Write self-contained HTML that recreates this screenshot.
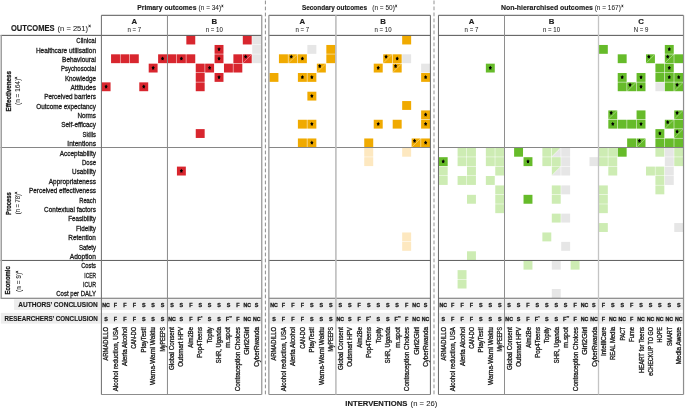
<!DOCTYPE html><html><head><meta charset="utf-8"><title>Outcomes</title><style>html,body{margin:0;padding:0;background:#fff;}svg{display:block;font-family:"Liberation Sans",sans-serif;}text{stroke:#1a1a1a;stroke-width:0.3px;paint-order:stroke;}text.b{stroke-width:0.16px;}text.l{stroke-width:0.05px;}text.c{stroke-width:0.32px;}</style></head><body>
<svg width="685" height="409" viewBox="0 0 685 409">
<rect width="685" height="409" fill="#fff"/>
<rect x="14.10" y="299.30" width="87.30" height="10.60" fill="#ededed"/>
<rect x="101.40" y="299.30" width="159.97" height="10.60" fill="#ededed"/>
<rect x="269.20" y="299.30" width="161.16" height="10.60" fill="#ededed"/>
<rect x="438.50" y="299.30" width="244.92" height="10.60" fill="#ededed"/>
<rect x="0.80" y="312.90" width="100.60" height="10.70" fill="#ededed"/>
<rect x="101.40" y="312.90" width="159.97" height="10.70" fill="#ededed"/>
<rect x="269.20" y="312.90" width="161.16" height="10.70" fill="#ededed"/>
<rect x="438.50" y="312.90" width="244.92" height="10.70" fill="#ededed"/>
<rect x="186.34" y="35.61" width="8.91" height="8.85" fill="#d8262e"/>
<rect x="242.80" y="35.61" width="8.91" height="8.85" fill="#d8262e"/>
<rect x="252.21" y="35.61" width="8.91" height="8.85" fill="#e6e6e6"/>
<rect x="214.57" y="44.96" width="8.91" height="8.85" fill="#d8262e"/><polygon points="219.03,47.03 219.63,48.17 220.66,48.56 220.00,49.64 220.03,51.01 219.03,50.55 218.02,51.01 218.05,49.64 217.39,48.56 218.42,48.17" fill="#000"/>
<rect x="252.21" y="44.96" width="8.91" height="8.85" fill="#e6e6e6"/>
<rect x="111.06" y="54.31" width="8.91" height="8.85" fill="#d8262e"/>
<rect x="120.47" y="54.31" width="8.91" height="8.85" fill="#d8262e"/>
<rect x="129.88" y="54.31" width="8.91" height="8.85" fill="#d8262e"/>
<rect x="158.11" y="54.31" width="8.91" height="8.85" fill="#d8262e"/><polygon points="162.57,56.38 163.17,57.52 164.20,57.91 163.54,58.99 163.57,60.36 162.57,59.91 161.56,60.36 161.59,58.99 160.93,57.91 161.96,57.52" fill="#000"/>
<rect x="167.52" y="54.31" width="8.91" height="8.85" fill="#d8262e"/>
<rect x="176.93" y="54.31" width="8.91" height="8.85" fill="#d8262e"/><polygon points="181.39,56.38 181.99,57.52 183.02,57.91 182.36,58.99 182.39,60.36 181.39,59.91 180.38,60.36 180.41,58.99 179.75,57.91 180.78,57.52" fill="#000"/>
<rect x="186.34" y="54.31" width="8.91" height="8.85" fill="#d8262e"/>
<rect x="214.57" y="54.31" width="8.91" height="8.85" fill="#d8262e"/><polygon points="219.03,56.38 219.63,57.52 220.66,57.91 220.00,58.99 220.03,60.36 219.03,59.91 218.02,60.36 218.05,58.99 217.39,57.91 218.42,57.52" fill="#000"/>
<rect x="233.39" y="54.31" width="8.91" height="8.85" fill="#d8262e"/>
<rect x="242.80" y="54.31" width="8.91" height="8.85" fill="#d8262e"/><line x1="242.80" y1="63.16" x2="251.71" y2="54.31" stroke="#fff" stroke-width="0.5" stroke-opacity="0.7"/><polygon points="245.66,54.58 246.26,55.72 247.29,56.10 246.63,57.19 246.66,58.56 245.66,58.10 244.65,58.56 244.68,57.19 244.02,56.10 245.05,55.72" fill="#000"/>
<rect x="252.21" y="54.31" width="8.91" height="8.85" fill="#e6e6e6"/>
<rect x="148.70" y="63.66" width="8.91" height="8.85" fill="#d8262e"/><polygon points="153.16,65.73 153.76,66.87 154.79,67.26 154.13,68.34 154.16,69.71 153.16,69.25 152.15,69.71 152.18,68.34 151.52,67.26 152.55,66.87" fill="#000"/>
<rect x="195.75" y="63.66" width="8.91" height="8.85" fill="#d8262e"/>
<rect x="205.16" y="63.66" width="8.91" height="8.85" fill="#d8262e"/><polygon points="209.62,65.73 210.22,66.87 211.25,67.26 210.59,68.34 210.62,69.71 209.62,69.25 208.61,69.71 208.64,68.34 207.98,67.26 209.01,66.87" fill="#000"/>
<rect x="223.98" y="63.66" width="8.91" height="8.85" fill="#d8262e"/>
<rect x="233.39" y="63.66" width="8.91" height="8.85" fill="#d8262e"/>
<rect x="195.75" y="73.01" width="8.91" height="8.85" fill="#d8262e"/>
<rect x="214.57" y="73.01" width="8.91" height="8.85" fill="#d8262e"/><polygon points="219.03,75.08 219.63,76.22 220.66,76.61 220.00,77.69 220.03,79.06 219.03,78.60 218.02,79.06 218.05,77.69 217.39,76.61 218.42,76.22" fill="#000"/>
<rect x="101.65" y="82.36" width="8.91" height="8.85" fill="#d8262e"/><polygon points="106.11,84.44 106.71,85.57 107.74,85.96 107.08,87.04 107.11,88.41 106.11,87.95 105.10,88.41 105.13,87.04 104.47,85.96 105.50,85.57" fill="#000"/>
<rect x="139.29" y="82.36" width="8.91" height="8.85" fill="#d8262e"/><polygon points="143.75,84.44 144.35,85.57 145.38,85.96 144.72,87.04 144.75,88.41 143.75,87.95 142.74,88.41 142.77,87.04 142.11,85.96 143.14,85.57" fill="#000"/>
<rect x="195.75" y="82.36" width="8.91" height="8.85" fill="#d8262e"/>
<rect x="195.75" y="129.11" width="8.91" height="8.85" fill="#d8262e"/>
<rect x="176.93" y="166.60" width="8.91" height="8.91" fill="#d8262e"/><polygon points="181.39,168.71 181.99,169.84 183.02,170.23 182.36,171.31 182.39,172.68 181.39,172.22 180.38,172.68 180.41,171.31 179.75,170.23 180.78,169.84" fill="#000"/>
<rect x="402.17" y="35.61" width="8.98" height="8.85" fill="#f0aa00"/>
<rect x="307.37" y="44.96" width="8.98" height="8.85" fill="#e6e6e6"/>
<rect x="326.33" y="44.96" width="8.98" height="8.85" fill="#f0aa00"/>
<rect x="278.93" y="54.31" width="8.98" height="8.85" fill="#f0aa00"/>
<rect x="288.41" y="54.31" width="8.98" height="8.85" fill="#f0aa00"/><line x1="288.41" y1="63.16" x2="297.39" y2="54.31" stroke="#fff" stroke-width="0.5" stroke-opacity="0.7"/><polygon points="291.29,54.58 291.89,55.72 292.92,56.10 292.27,57.19 292.30,58.56 291.29,58.10 290.28,58.56 290.31,57.19 289.66,56.10 290.68,55.72" fill="#000"/>
<rect x="297.89" y="54.31" width="8.98" height="8.85" fill="#f0aa00"/><polygon points="302.38,56.38 302.99,57.52 304.01,57.91 303.36,58.99 303.39,60.36 302.38,59.91 301.37,60.36 301.40,58.99 300.75,57.91 301.77,57.52" fill="#000"/>
<rect x="326.33" y="54.31" width="8.98" height="8.85" fill="#f0aa00"/>
<rect x="383.21" y="54.31" width="8.98" height="8.85" fill="#f0aa00"/><line x1="383.21" y1="63.16" x2="392.19" y2="54.31" stroke="#fff" stroke-width="0.5" stroke-opacity="0.7"/><polygon points="386.09,54.58 386.69,55.72 387.72,56.10 387.07,57.19 387.10,58.56 386.09,58.10 385.08,58.56 385.11,57.19 384.46,56.10 385.48,55.72" fill="#000"/>
<rect x="392.69" y="54.31" width="8.98" height="8.85" fill="#f0aa00"/><polygon points="397.18,56.38 397.79,57.52 398.81,57.91 398.16,58.99 398.19,60.36 397.18,59.91 396.17,60.36 396.20,58.99 395.55,57.91 396.57,57.52" fill="#000"/>
<rect x="402.17" y="54.31" width="8.98" height="8.85" fill="#e6e6e6"/>
<rect x="316.85" y="63.66" width="8.98" height="8.85" fill="#f0aa00"/><line x1="316.85" y1="72.51" x2="325.83" y2="63.66" stroke="#fff" stroke-width="0.5" stroke-opacity="0.7"/><polygon points="319.73,63.93 320.33,65.07 321.36,65.45 320.71,66.54 320.74,67.91 319.73,67.45 318.72,67.91 318.75,66.54 318.10,65.45 319.12,65.07" fill="#000"/>
<rect x="373.73" y="63.66" width="8.98" height="8.85" fill="#f0aa00"/><polygon points="378.22,65.73 378.83,66.87 379.85,67.26 379.20,68.34 379.23,69.71 378.22,69.25 377.21,69.71 377.24,68.34 376.59,67.26 377.61,66.87" fill="#000"/>
<rect x="392.69" y="63.66" width="8.98" height="8.85" fill="#f0aa00"/><line x1="392.69" y1="72.51" x2="401.67" y2="63.66" stroke="#fff" stroke-width="0.5" stroke-opacity="0.7"/><polygon points="395.57,63.93 396.17,65.07 397.20,65.45 396.55,66.54 396.58,67.91 395.57,67.45 394.56,67.91 394.59,66.54 393.94,65.45 394.96,65.07" fill="#000"/>
<rect x="421.13" y="63.66" width="8.98" height="8.85" fill="#e6e6e6"/>
<rect x="269.45" y="73.01" width="8.98" height="8.85" fill="#f0aa00"/>
<rect x="297.89" y="73.01" width="8.98" height="8.85" fill="#f0aa00"/><polygon points="302.38,75.08 302.99,76.22 304.01,76.61 303.36,77.69 303.39,79.06 302.38,78.60 301.37,79.06 301.40,77.69 300.75,76.61 301.77,76.22" fill="#000"/>
<rect x="307.37" y="73.01" width="8.98" height="8.85" fill="#f0aa00"/><polygon points="311.86,75.08 312.47,76.22 313.49,76.61 312.84,77.69 312.87,79.06 311.86,78.60 310.85,79.06 310.88,77.69 310.23,76.61 311.25,76.22" fill="#000"/>
<rect x="421.13" y="73.01" width="8.98" height="8.85" fill="#f0aa00"/><polygon points="425.62,75.08 426.23,76.22 427.25,76.61 426.60,77.69 426.63,79.06 425.62,78.60 424.61,79.06 424.64,77.69 423.99,76.61 425.01,76.22" fill="#000"/>
<rect x="307.37" y="91.71" width="8.98" height="8.85" fill="#f0aa00"/><polygon points="311.86,93.78 312.47,94.92 313.49,95.31 312.84,96.39 312.87,97.76 311.86,97.30 310.85,97.76 310.88,96.39 310.23,95.31 311.25,94.92" fill="#000"/>
<rect x="402.17" y="101.06" width="8.98" height="8.85" fill="#f0aa00"/>
<rect x="421.13" y="110.41" width="8.98" height="8.85" fill="#f0aa00"/><polygon points="425.62,112.48 426.23,113.62 427.25,114.01 426.60,115.09 426.63,116.46 425.62,116.00 424.61,116.46 424.64,115.09 423.99,114.01 425.01,113.62" fill="#000"/>
<rect x="297.89" y="119.76" width="8.98" height="8.85" fill="#f0aa00"/>
<rect x="307.37" y="119.76" width="8.98" height="8.85" fill="#f0aa00"/><polygon points="311.86,121.83 312.47,122.97 313.49,123.36 312.84,124.44 312.87,125.81 311.86,125.35 310.85,125.81 310.88,124.44 310.23,123.36 311.25,122.97" fill="#000"/>
<rect x="373.73" y="119.76" width="8.98" height="8.85" fill="#f0aa00"/><polygon points="378.22,121.83 378.83,122.97 379.85,123.36 379.20,124.44 379.23,125.81 378.22,125.35 377.21,125.81 377.24,124.44 376.59,123.36 377.61,122.97" fill="#000"/>
<rect x="392.69" y="119.76" width="8.98" height="8.85" fill="#f0aa00"/>
<rect x="421.13" y="119.76" width="8.98" height="8.85" fill="#f0aa00"/><polygon points="425.62,121.83 426.23,122.97 427.25,123.36 426.60,124.44 426.63,125.81 425.62,125.35 424.61,125.81 424.64,124.44 423.99,123.36 425.01,122.97" fill="#000"/>
<rect x="297.89" y="138.46" width="8.98" height="8.85" fill="#f0aa00"/>
<rect x="307.37" y="138.46" width="8.98" height="8.85" fill="#f0aa00"/><polygon points="311.86,140.53 312.47,141.67 313.49,142.06 312.84,143.14 312.87,144.51 311.86,144.05 310.85,144.51 310.88,143.14 310.23,142.06 311.25,141.67" fill="#000"/>
<rect x="364.25" y="138.46" width="8.98" height="8.85" fill="#f0aa00"/>
<rect x="411.65" y="138.46" width="8.98" height="8.85" fill="#f0aa00"/><line x1="411.65" y1="147.31" x2="420.63" y2="138.46" stroke="#fff" stroke-width="0.5" stroke-opacity="0.7"/><polygon points="414.53,138.73 415.13,139.87 416.16,140.25 415.51,141.34 415.54,142.71 414.53,142.25 413.52,142.71 413.55,141.34 412.90,140.25 413.92,139.87" fill="#000"/>
<rect x="421.13" y="138.46" width="8.98" height="8.85" fill="#f0aa00"/><polygon points="425.62,140.53 426.23,141.67 427.25,142.06 426.60,143.14 426.63,144.51 425.62,144.05 424.61,144.51 424.64,143.14 423.99,142.06 425.01,141.67" fill="#000"/>
<rect x="364.25" y="147.78" width="8.98" height="8.91" fill="#fde8c0"/>
<rect x="402.17" y="147.78" width="8.98" height="8.91" fill="#fde8c0"/>
<rect x="364.25" y="157.19" width="8.98" height="8.91" fill="#fde8c0"/>
<rect x="402.17" y="232.47" width="8.98" height="8.91" fill="#fde8c0"/>
<rect x="402.17" y="241.88" width="8.98" height="8.91" fill="#fde8c0"/>
<rect x="598.89" y="44.96" width="8.92" height="8.85" fill="#66bb2a"/>
<rect x="664.83" y="44.96" width="8.92" height="8.85" fill="#66bb2a"/><polygon points="669.29,47.03 669.90,48.17 670.92,48.56 670.27,49.64 670.30,51.01 669.29,50.55 668.28,51.01 668.31,49.64 667.66,48.56 668.68,48.17" fill="#000"/>
<rect x="617.73" y="54.31" width="8.92" height="8.85" fill="#66bb2a"/>
<rect x="645.99" y="54.31" width="8.92" height="8.85" fill="#66bb2a"/><line x1="645.99" y1="63.16" x2="654.91" y2="54.31" stroke="#fff" stroke-width="0.5" stroke-opacity="0.7"/><polygon points="648.85,54.58 649.45,55.72 650.48,56.10 649.83,57.19 649.86,58.56 648.85,58.10 647.84,58.56 647.87,57.19 647.22,56.10 648.24,55.72" fill="#000"/>
<rect x="664.83" y="54.31" width="8.92" height="8.85" fill="#66bb2a"/><line x1="664.83" y1="63.16" x2="673.75" y2="54.31" stroke="#fff" stroke-width="0.5" stroke-opacity="0.7"/><polygon points="667.69,54.58 668.29,55.72 669.32,56.10 668.67,57.19 668.70,58.56 667.69,58.10 666.68,58.56 666.71,57.19 666.06,56.10 667.08,55.72" fill="#000"/>
<rect x="674.25" y="54.31" width="8.92" height="8.85" fill="#66bb2a"/>
<rect x="485.85" y="63.66" width="8.92" height="8.85" fill="#66bb2a"/><polygon points="490.31,65.73 490.92,66.87 491.94,67.26 491.29,68.34 491.32,69.71 490.31,69.25 489.30,69.71 489.33,68.34 488.68,67.26 489.70,66.87" fill="#000"/>
<rect x="655.41" y="63.66" width="8.92" height="8.85" fill="#66bb2a"/>
<rect x="664.83" y="63.66" width="8.92" height="8.85" fill="#66bb2a"/><polygon points="669.29,65.73 669.90,66.87 670.92,67.26 670.27,68.34 670.30,69.71 669.29,69.25 668.28,69.71 668.31,68.34 667.66,67.26 668.68,66.87" fill="#000"/>
<rect x="617.73" y="73.01" width="8.92" height="8.85" fill="#66bb2a"/><polygon points="622.19,75.08 622.80,76.22 623.82,76.61 623.17,77.69 623.20,79.06 622.19,78.60 621.18,79.06 621.21,77.69 620.56,76.61 621.58,76.22" fill="#000"/>
<rect x="636.57" y="73.01" width="8.92" height="8.85" fill="#66bb2a"/><polygon points="641.03,75.08 641.64,76.22 642.66,76.61 642.01,77.69 642.04,79.06 641.03,78.60 640.02,79.06 640.05,77.69 639.40,76.61 640.42,76.22" fill="#000"/>
<rect x="655.41" y="73.01" width="8.92" height="8.85" fill="#66bb2a"/>
<rect x="664.83" y="73.01" width="8.92" height="8.85" fill="#66bb2a"/><polygon points="669.29,75.08 669.90,76.22 670.92,76.61 670.27,77.69 670.30,79.06 669.29,78.60 668.28,79.06 668.31,77.69 667.66,76.61 668.68,76.22" fill="#000"/>
<rect x="674.25" y="73.01" width="8.92" height="8.85" fill="#66bb2a"/><polygon points="678.71,75.08 679.32,76.22 680.34,76.61 679.69,77.69 679.72,79.06 678.71,78.60 677.70,79.06 677.73,77.69 677.08,76.61 678.10,76.22" fill="#000"/>
<rect x="617.73" y="82.36" width="8.92" height="8.85" fill="#66bb2a"/>
<rect x="627.15" y="82.36" width="8.92" height="8.85" fill="#66bb2a"/><line x1="627.15" y1="91.21" x2="636.07" y2="82.36" stroke="#fff" stroke-width="0.5" stroke-opacity="0.7"/><polygon points="630.01,82.63 630.61,83.77 631.64,84.15 630.99,85.24 631.02,86.61 630.01,86.15 629.00,86.61 629.03,85.24 628.38,84.15 629.40,83.77" fill="#000"/>
<rect x="636.57" y="82.36" width="8.92" height="8.85" fill="#66bb2a"/><polygon points="641.03,84.44 641.64,85.57 642.66,85.96 642.01,87.04 642.04,88.41 641.03,87.95 640.02,88.41 640.05,87.04 639.40,85.96 640.42,85.57" fill="#000"/>
<rect x="655.41" y="82.36" width="8.92" height="8.85" fill="#e6e6e6"/>
<rect x="664.83" y="82.36" width="8.92" height="8.85" fill="#66bb2a"/>
<rect x="674.25" y="82.36" width="8.92" height="8.85" fill="#66bb2a"/><line x1="674.25" y1="91.21" x2="683.17" y2="82.36" stroke="#fff" stroke-width="0.5" stroke-opacity="0.7"/><polygon points="677.11,82.63 677.71,83.77 678.74,84.15 678.09,85.24 678.12,86.61 677.11,86.15 676.10,86.61 676.13,85.24 675.48,84.15 676.50,83.77" fill="#000"/>
<rect x="608.31" y="110.41" width="8.92" height="8.85" fill="#66bb2a"/><line x1="608.31" y1="119.26" x2="617.23" y2="110.41" stroke="#fff" stroke-width="0.5" stroke-opacity="0.7"/><polygon points="611.17,110.68 611.77,111.82 612.80,112.20 612.15,113.29 612.18,114.66 611.17,114.20 610.16,114.66 610.19,113.29 609.54,112.20 610.56,111.82" fill="#000"/>
<rect x="636.57" y="110.41" width="8.92" height="8.85" fill="#66bb2a"/>
<rect x="674.25" y="110.41" width="8.92" height="8.85" fill="#66bb2a"/><line x1="674.25" y1="119.26" x2="683.17" y2="110.41" stroke="#fff" stroke-width="0.5" stroke-opacity="0.7"/><polygon points="677.11,110.68 677.71,111.82 678.74,112.20 678.09,113.29 678.12,114.66 677.11,114.20 676.10,114.66 676.13,113.29 675.48,112.20 676.50,111.82" fill="#000"/>
<rect x="608.31" y="119.76" width="8.92" height="8.85" fill="#66bb2a"/><polygon points="612.77,121.83 613.38,122.97 614.40,123.36 613.75,124.44 613.78,125.81 612.77,125.35 611.76,125.81 611.79,124.44 611.14,123.36 612.16,122.97" fill="#000"/>
<rect x="617.73" y="119.76" width="8.92" height="8.85" fill="#66bb2a"/>
<rect x="627.15" y="119.76" width="8.92" height="8.85" fill="#66bb2a"/>
<rect x="636.57" y="119.76" width="8.92" height="8.85" fill="#66bb2a"/><polygon points="641.03,121.83 641.64,122.97 642.66,123.36 642.01,124.44 642.04,125.81 641.03,125.35 640.02,125.81 640.05,124.44 639.40,123.36 640.42,122.97" fill="#000"/>
<rect x="664.83" y="119.76" width="8.92" height="8.85" fill="#66bb2a"/><line x1="664.83" y1="128.61" x2="673.75" y2="119.76" stroke="#fff" stroke-width="0.5" stroke-opacity="0.7"/><polygon points="667.69,120.03 668.29,121.17 669.32,121.55 668.67,122.64 668.70,124.01 667.69,123.55 666.68,124.01 666.71,122.64 666.06,121.55 667.08,121.17" fill="#000"/>
<rect x="674.25" y="119.76" width="8.92" height="8.85" fill="#66bb2a"/>
<rect x="655.41" y="129.11" width="8.92" height="8.85" fill="#66bb2a"/><polygon points="659.87,131.19 660.48,132.32 661.50,132.71 660.85,133.79 660.88,135.16 659.87,134.71 658.86,135.16 658.89,133.79 658.24,132.71 659.26,132.32" fill="#000"/>
<rect x="674.25" y="129.11" width="8.92" height="8.85" fill="#66bb2a"/><line x1="674.25" y1="137.96" x2="683.17" y2="129.11" stroke="#fff" stroke-width="0.5" stroke-opacity="0.7"/><polygon points="677.11,129.38 677.71,130.52 678.74,130.90 678.09,131.99 678.12,133.36 677.11,132.90 676.10,133.36 676.13,131.99 675.48,130.90 676.50,130.52" fill="#000"/>
<rect x="627.15" y="138.46" width="8.92" height="8.85" fill="#66bb2a"/>
<rect x="636.57" y="138.46" width="8.92" height="8.85" fill="#66bb2a"/><line x1="636.57" y1="147.31" x2="645.49" y2="138.46" stroke="#fff" stroke-width="0.5" stroke-opacity="0.7"/><polygon points="639.43,138.73 640.03,139.87 641.06,140.25 640.41,141.34 640.44,142.71 639.43,142.25 638.42,142.71 638.45,141.34 637.80,140.25 638.82,139.87" fill="#000"/>
<rect x="655.41" y="138.46" width="8.92" height="8.85" fill="#66bb2a"/>
<rect x="664.83" y="138.46" width="8.92" height="8.85" fill="#66bb2a"/>
<rect x="674.25" y="138.46" width="8.92" height="8.85" fill="#66bb2a"/>
<rect x="457.59" y="147.78" width="8.92" height="8.91" fill="#cdecb3"/>
<rect x="467.01" y="147.78" width="8.92" height="8.91" fill="#cdecb3"/>
<rect x="485.85" y="147.78" width="8.92" height="8.91" fill="#cdecb3"/>
<rect x="495.27" y="147.78" width="8.92" height="8.91" fill="#cdecb3"/>
<rect x="514.11" y="147.78" width="8.92" height="8.91" fill="#66bb2a"/>
<rect x="542.37" y="147.78" width="8.92" height="8.91" fill="#cdecb3"/>
<polygon points="551.79,147.78 560.71,147.78 551.79,156.69" fill="#cdecb3"/><polygon points="560.71,147.78 560.71,156.69 551.79,156.69" fill="#e6e6e6"/><line x1="551.79" y1="156.69" x2="560.71" y2="147.78" stroke="#fff" stroke-width="0.5" stroke-opacity="0.6"/>
<rect x="561.21" y="147.78" width="8.92" height="8.91" fill="#e6e6e6"/>
<rect x="598.89" y="147.78" width="8.92" height="8.91" fill="#cdecb3"/>
<rect x="608.31" y="147.78" width="8.92" height="8.91" fill="#cdecb3"/>
<rect x="617.73" y="147.78" width="8.92" height="8.91" fill="#66bb2a"/>
<rect x="655.41" y="147.78" width="8.92" height="8.91" fill="#cdecb3"/>
<rect x="664.83" y="147.78" width="8.92" height="8.91" fill="#e6e6e6"/>
<rect x="674.25" y="147.78" width="8.92" height="8.91" fill="#cdecb3"/>
<rect x="438.75" y="157.19" width="8.92" height="8.91" fill="#66bb2a"/><polygon points="443.21,159.30 443.82,160.43 444.84,160.82 444.19,161.90 444.22,163.27 443.21,162.81 442.20,163.27 442.23,161.90 441.58,160.82 442.60,160.43" fill="#000"/>
<rect x="457.59" y="157.19" width="8.92" height="8.91" fill="#cdecb3"/>
<rect x="467.01" y="157.19" width="8.92" height="8.91" fill="#cdecb3"/>
<rect x="485.85" y="157.19" width="8.92" height="8.91" fill="#cdecb3"/>
<rect x="495.27" y="157.19" width="8.92" height="8.91" fill="#cdecb3"/>
<rect x="523.53" y="157.19" width="8.92" height="8.91" fill="#66bb2a"/><polygon points="527.99,159.30 528.60,160.43 529.62,160.82 528.97,161.90 529.00,163.27 527.99,162.81 526.98,163.27 527.01,161.90 526.36,160.82 527.38,160.43" fill="#000"/>
<rect x="542.37" y="157.19" width="8.92" height="8.91" fill="#cdecb3"/>
<rect x="551.79" y="157.19" width="8.92" height="8.91" fill="#cdecb3"/>
<rect x="561.21" y="157.19" width="8.92" height="8.91" fill="#e6e6e6"/>
<rect x="589.47" y="157.19" width="8.92" height="8.91" fill="#e6e6e6"/>
<rect x="598.89" y="157.19" width="8.92" height="8.91" fill="#cdecb3"/>
<rect x="608.31" y="157.19" width="8.92" height="8.91" fill="#cdecb3"/>
<rect x="664.83" y="157.19" width="8.92" height="8.91" fill="#e6e6e6"/>
<rect x="674.25" y="157.19" width="8.92" height="8.91" fill="#cdecb3"/>
<rect x="438.75" y="166.60" width="8.92" height="8.91" fill="#cdecb3"/>
<rect x="467.01" y="166.60" width="8.92" height="8.91" fill="#cdecb3"/>
<rect x="495.27" y="166.60" width="8.92" height="8.91" fill="#cdecb3"/>
<polygon points="551.79,166.60 560.71,166.60 551.79,175.51" fill="#cdecb3"/><polygon points="560.71,166.60 560.71,175.51 551.79,175.51" fill="#e6e6e6"/><line x1="551.79" y1="175.51" x2="560.71" y2="166.60" stroke="#fff" stroke-width="0.5" stroke-opacity="0.6"/>
<rect x="561.21" y="166.60" width="8.92" height="8.91" fill="#e6e6e6"/>
<rect x="608.31" y="166.60" width="8.92" height="8.91" fill="#cdecb3"/>
<rect x="645.99" y="166.60" width="8.92" height="8.91" fill="#cdecb3"/>
<rect x="655.41" y="166.60" width="8.92" height="8.91" fill="#cdecb3"/>
<rect x="664.83" y="166.60" width="8.92" height="8.91" fill="#e6e6e6"/>
<rect x="438.75" y="176.01" width="8.92" height="8.91" fill="#cdecb3"/>
<rect x="457.59" y="176.01" width="8.92" height="8.91" fill="#cdecb3"/>
<rect x="467.01" y="176.01" width="8.92" height="8.91" fill="#cdecb3"/>
<rect x="485.85" y="176.01" width="8.92" height="8.91" fill="#cdecb3"/>
<rect x="655.41" y="176.01" width="8.92" height="8.91" fill="#cdecb3"/>
<rect x="664.83" y="176.01" width="8.92" height="8.91" fill="#e6e6e6"/>
<rect x="495.27" y="185.42" width="8.92" height="8.91" fill="#cdecb3"/>
<rect x="551.79" y="185.42" width="8.92" height="8.91" fill="#cdecb3"/>
<rect x="561.21" y="185.42" width="8.92" height="8.91" fill="#e6e6e6"/>
<rect x="598.89" y="185.42" width="8.92" height="8.91" fill="#cdecb3"/>
<rect x="655.41" y="185.42" width="8.92" height="8.91" fill="#cdecb3"/>
<rect x="467.01" y="194.83" width="8.92" height="8.91" fill="#cdecb3"/>
<rect x="495.27" y="194.83" width="8.92" height="8.91" fill="#cdecb3"/>
<rect x="523.53" y="194.83" width="8.92" height="8.91" fill="#66bb2a"/>
<rect x="551.79" y="194.83" width="8.92" height="8.91" fill="#cdecb3"/>
<rect x="598.89" y="194.83" width="8.92" height="8.91" fill="#cdecb3"/>
<rect x="495.27" y="204.24" width="8.92" height="8.91" fill="#cdecb3"/>
<rect x="598.89" y="204.24" width="8.92" height="8.91" fill="#cdecb3"/>
<rect x="551.79" y="213.65" width="8.92" height="8.91" fill="#cdecb3"/>
<rect x="561.21" y="213.65" width="8.92" height="8.91" fill="#e6e6e6"/>
<rect x="598.89" y="223.06" width="8.92" height="8.91" fill="#cdecb3"/>
<rect x="674.25" y="223.06" width="8.92" height="8.91" fill="#e6e6e6"/>
<rect x="542.37" y="232.47" width="8.92" height="8.91" fill="#cdecb3"/>
<rect x="561.21" y="241.88" width="8.92" height="8.91" fill="#e6e6e6"/>
<rect x="467.01" y="251.29" width="8.92" height="8.91" fill="#cdecb3"/>
<rect x="523.53" y="260.70" width="8.92" height="8.94" fill="#cdecb3"/>
<rect x="551.79" y="260.70" width="8.92" height="8.94" fill="#e6e6e6"/>
<rect x="570.63" y="260.70" width="8.92" height="8.94" fill="#cdecb3"/>
<rect x="457.59" y="270.14" width="8.92" height="8.94" fill="#cdecb3"/>
<rect x="457.59" y="279.58" width="8.92" height="8.94" fill="#cdecb3"/>
<rect x="551.79" y="289.02" width="8.92" height="8.94" fill="#e6e6e6"/>
<line x1="0.60" y1="35.36" x2="101.40" y2="35.36" stroke="#525252" stroke-width="1.00"/>
<line x1="0.60" y1="147.53" x2="101.40" y2="147.53" stroke="#868686" stroke-width="1.10"/>
<line x1="0.60" y1="260.45" x2="101.40" y2="260.45" stroke="#5c5c5c" stroke-width="1.00"/>
<line x1="0.60" y1="298.20" x2="101.40" y2="298.20" stroke="#6c6c6c" stroke-width="1.05"/>
<line x1="1.25" y1="35.36" x2="1.25" y2="298.20" stroke="#a0a0a0" stroke-width="1.50"/>
<line x1="101.40" y1="15.30" x2="261.75" y2="15.30" stroke="#555" stroke-width="1.00"/>
<line x1="101.40" y1="35.36" x2="261.75" y2="35.36" stroke="#525252" stroke-width="1.00"/>
<line x1="101.40" y1="147.53" x2="261.75" y2="147.53" stroke="#868686" stroke-width="1.10"/>
<line x1="101.40" y1="260.45" x2="261.75" y2="260.45" stroke="#5c5c5c" stroke-width="1.00"/>
<line x1="101.40" y1="298.20" x2="261.75" y2="298.20" stroke="#6c6c6c" stroke-width="1.05"/>
<line x1="101.40" y1="394.50" x2="261.75" y2="394.50" stroke="#8c8c8c" stroke-width="1.20"/>
<line x1="101.40" y1="15.30" x2="101.40" y2="394.50" stroke="#6c6c6c" stroke-width="1.00"/>
<line x1="167.45" y1="15.30" x2="167.45" y2="394.50" stroke="#8a8a8a" stroke-width="1.00"/>
<line x1="261.75" y1="15.30" x2="261.75" y2="394.50" stroke="#9a9a9a" stroke-width="1.30"/>
<line x1="268.85" y1="15.30" x2="430.40" y2="15.30" stroke="#555" stroke-width="1.00"/>
<line x1="268.85" y1="35.36" x2="430.40" y2="35.36" stroke="#525252" stroke-width="1.00"/>
<line x1="268.85" y1="147.53" x2="430.40" y2="147.53" stroke="#868686" stroke-width="1.10"/>
<line x1="268.85" y1="260.45" x2="430.40" y2="260.45" stroke="#5c5c5c" stroke-width="1.00"/>
<line x1="268.85" y1="298.20" x2="430.40" y2="298.20" stroke="#6c6c6c" stroke-width="1.05"/>
<line x1="268.85" y1="394.50" x2="430.40" y2="394.50" stroke="#8c8c8c" stroke-width="1.20"/>
<line x1="268.85" y1="15.30" x2="268.85" y2="394.50" stroke="#9a9a9a" stroke-width="1.30"/>
<line x1="335.90" y1="15.30" x2="335.90" y2="394.50" stroke="#bdbdbd" stroke-width="1.60"/>
<line x1="430.40" y1="15.30" x2="430.40" y2="394.50" stroke="#666" stroke-width="1.00"/>
<line x1="438.45" y1="15.30" x2="683.45" y2="15.30" stroke="#555" stroke-width="1.00"/>
<line x1="438.45" y1="35.36" x2="683.45" y2="35.36" stroke="#525252" stroke-width="1.00"/>
<line x1="438.45" y1="147.53" x2="683.45" y2="147.53" stroke="#868686" stroke-width="1.10"/>
<line x1="438.45" y1="260.45" x2="683.45" y2="260.45" stroke="#5c5c5c" stroke-width="1.00"/>
<line x1="438.45" y1="298.20" x2="683.45" y2="298.20" stroke="#6c6c6c" stroke-width="1.05"/>
<line x1="438.45" y1="394.50" x2="683.45" y2="394.50" stroke="#8c8c8c" stroke-width="1.20"/>
<line x1="438.45" y1="15.30" x2="438.45" y2="394.50" stroke="#666" stroke-width="1.00"/>
<line x1="504.50" y1="15.30" x2="504.50" y2="394.50" stroke="#8e8e8e" stroke-width="1.00"/>
<line x1="598.50" y1="15.30" x2="598.50" y2="394.50" stroke="#c4c4c4" stroke-width="1.30"/>
<line x1="683.45" y1="15.30" x2="683.45" y2="394.50" stroke="#7c7c7c" stroke-width="1.00"/>
<line x1="684.40" y1="15.30" x2="684.40" y2="394.50" stroke="#ececec" stroke-width="1.00"/>
<line x1="265.40" y1="0" x2="265.40" y2="395.6" stroke="#8c8c8c" stroke-width="1.00" stroke-dasharray="3.7 2.3" stroke-dashoffset="-0.6"/>
<line x1="434.00" y1="0" x2="434.00" y2="395.6" stroke="#adadad" stroke-width="1.30" stroke-dasharray="3.7 2.3" stroke-dashoffset="-0.6"/>
<g opacity="0.995"><text class="b" x="137.30" y="9.70" font-size="6.90" font-weight="bold" text-anchor="start" fill="#1a1a1a" textLength="59.10" lengthAdjust="spacingAndGlyphs">Primary outcomes</text>
<text class="l" x="198.60" y="9.70" font-size="6.40" font-weight="normal" text-anchor="start" fill="#1a1a1a" textLength="22.50" lengthAdjust="spacingAndGlyphs">(n = 34)</text>
<text class="b" x="301.90" y="9.70" font-size="6.90" font-weight="bold" text-anchor="start" fill="#1a1a1a" textLength="65.10" lengthAdjust="spacingAndGlyphs">Secondary outcomes</text>
<text class="l" x="372.30" y="9.70" font-size="6.40" font-weight="normal" text-anchor="start" fill="#1a1a1a" textLength="22.50" lengthAdjust="spacingAndGlyphs">(n = 50)</text>
<text class="b" x="501.00" y="9.70" font-size="6.90" font-weight="bold" text-anchor="start" fill="#1a1a1a" textLength="91.90" lengthAdjust="spacingAndGlyphs">Non-hierarchised outcomes</text>
<text class="l" x="594.70" y="9.70" font-size="6.40" font-weight="normal" text-anchor="start" fill="#1a1a1a" textLength="26.20" lengthAdjust="spacingAndGlyphs">(n = 167)</text>
<text x="221.50" y="7.00" font-size="3.60" font-weight="normal" text-anchor="start" fill="#1a1a1a">x</text>
<text x="395.20" y="7.00" font-size="3.60" font-weight="normal" text-anchor="start" fill="#1a1a1a">x</text>
<text x="621.60" y="7.00" font-size="3.60" font-weight="normal" text-anchor="start" fill="#1a1a1a">x</text>
<text class="b" x="10.90" y="30.60" font-size="9.40" font-weight="bold" text-anchor="start" fill="#1a1a1a" textLength="43.70" lengthAdjust="spacingAndGlyphs">OUTCOMES</text>
<text class="l" x="57.60" y="30.50" font-size="7.90" font-weight="normal" text-anchor="start" fill="#1a1a1a" textLength="30.40" lengthAdjust="spacingAndGlyphs">(n = 251)</text>
<text x="88.40" y="27.40" font-size="4.40" font-weight="normal" text-anchor="start" fill="#1a1a1a">x</text>
<text class="b" x="134.34" y="24.45" font-size="7.80" font-weight="bold" text-anchor="middle" fill="#1a1a1a">A</text>
<text class="l" x="134.34" y="32.00" font-size="6.30" font-weight="normal" text-anchor="middle" fill="#1a1a1a" textLength="13.76" lengthAdjust="spacingAndGlyphs">n = 7</text>
<text class="b" x="214.32" y="24.45" font-size="7.80" font-weight="bold" text-anchor="middle" fill="#1a1a1a">B</text>
<text class="l" x="214.32" y="32.00" font-size="6.30" font-weight="normal" text-anchor="middle" fill="#1a1a1a" textLength="17.16" lengthAdjust="spacingAndGlyphs">n = 10</text>
<text class="b" x="302.38" y="24.45" font-size="7.80" font-weight="bold" text-anchor="middle" fill="#1a1a1a">A</text>
<text class="l" x="302.38" y="32.00" font-size="6.30" font-weight="normal" text-anchor="middle" fill="#1a1a1a" textLength="13.76" lengthAdjust="spacingAndGlyphs">n = 7</text>
<text class="b" x="382.96" y="24.45" font-size="7.80" font-weight="bold" text-anchor="middle" fill="#1a1a1a">B</text>
<text class="l" x="382.96" y="32.00" font-size="6.30" font-weight="normal" text-anchor="middle" fill="#1a1a1a" textLength="17.16" lengthAdjust="spacingAndGlyphs">n = 10</text>
<text class="b" x="471.47" y="24.45" font-size="7.80" font-weight="bold" text-anchor="middle" fill="#1a1a1a">A</text>
<text class="l" x="471.47" y="32.00" font-size="6.30" font-weight="normal" text-anchor="middle" fill="#1a1a1a" textLength="13.76" lengthAdjust="spacingAndGlyphs">n = 7</text>
<text class="b" x="551.54" y="24.45" font-size="7.80" font-weight="bold" text-anchor="middle" fill="#1a1a1a">B</text>
<text class="l" x="551.54" y="32.00" font-size="6.30" font-weight="normal" text-anchor="middle" fill="#1a1a1a" textLength="17.16" lengthAdjust="spacingAndGlyphs">n = 10</text>
<text class="b" x="641.03" y="24.45" font-size="7.80" font-weight="bold" text-anchor="middle" fill="#1a1a1a">C</text>
<text class="l" x="641.03" y="32.00" font-size="6.30" font-weight="normal" text-anchor="middle" fill="#1a1a1a" textLength="14.78" lengthAdjust="spacingAndGlyphs">N = 9</text>
<text x="96.00" y="43.33" font-size="7.10" font-weight="normal" text-anchor="end" fill="#1a1a1a" textLength="19.70" lengthAdjust="spacingAndGlyphs">Clinical</text>
<text x="96.00" y="52.68" font-size="7.10" font-weight="normal" text-anchor="end" fill="#1a1a1a" textLength="60.10" lengthAdjust="spacingAndGlyphs">Healthcare utilisation</text>
<text x="96.00" y="62.03" font-size="7.10" font-weight="normal" text-anchor="end" fill="#1a1a1a" textLength="33.90" lengthAdjust="spacingAndGlyphs">Behavioural</text>
<text x="96.00" y="71.38" font-size="7.10" font-weight="normal" text-anchor="end" fill="#1a1a1a" textLength="35.00" lengthAdjust="spacingAndGlyphs">Psychosocial</text>
<text x="96.00" y="80.73" font-size="7.10" font-weight="normal" text-anchor="end" fill="#1a1a1a" textLength="31.10" lengthAdjust="spacingAndGlyphs">Knowledge</text>
<text x="96.00" y="90.08" font-size="7.10" font-weight="normal" text-anchor="end" fill="#1a1a1a" textLength="25.50" lengthAdjust="spacingAndGlyphs">Attitudes</text>
<text x="96.00" y="99.43" font-size="7.10" font-weight="normal" text-anchor="end" fill="#1a1a1a" textLength="51.80" lengthAdjust="spacingAndGlyphs">Perceived barriers</text>
<text x="96.00" y="108.78" font-size="7.10" font-weight="normal" text-anchor="end" fill="#1a1a1a" textLength="59.80" lengthAdjust="spacingAndGlyphs">Outcome expectancy</text>
<text x="96.00" y="118.13" font-size="7.10" font-weight="normal" text-anchor="end" fill="#1a1a1a" textLength="18.60" lengthAdjust="spacingAndGlyphs">Norms</text>
<text x="96.00" y="127.48" font-size="7.10" font-weight="normal" text-anchor="end" fill="#1a1a1a" textLength="34.70" lengthAdjust="spacingAndGlyphs">Self-efficacy</text>
<text x="96.00" y="136.84" font-size="7.10" font-weight="normal" text-anchor="end" fill="#1a1a1a" textLength="13.40" lengthAdjust="spacingAndGlyphs">Skills</text>
<text x="96.00" y="146.19" font-size="7.10" font-weight="normal" text-anchor="end" fill="#1a1a1a" textLength="28.70" lengthAdjust="spacingAndGlyphs">Intentions</text>
<text x="96.00" y="155.54" font-size="7.10" font-weight="normal" text-anchor="end" fill="#1a1a1a" textLength="36.30" lengthAdjust="spacingAndGlyphs">Acceptability</text>
<text x="96.00" y="164.95" font-size="7.10" font-weight="normal" text-anchor="end" fill="#1a1a1a" textLength="14.00" lengthAdjust="spacingAndGlyphs">Dose</text>
<text x="96.00" y="174.36" font-size="7.10" font-weight="normal" text-anchor="end" fill="#1a1a1a" textLength="23.90" lengthAdjust="spacingAndGlyphs">Usability</text>
<text x="96.00" y="183.77" font-size="7.10" font-weight="normal" text-anchor="end" fill="#1a1a1a" textLength="47.30" lengthAdjust="spacingAndGlyphs">Appropriateness</text>
<text x="96.00" y="193.18" font-size="7.10" font-weight="normal" text-anchor="end" fill="#1a1a1a" textLength="66.90" lengthAdjust="spacingAndGlyphs">Perceived effectiveness</text>
<text x="96.00" y="202.59" font-size="7.10" font-weight="normal" text-anchor="end" fill="#1a1a1a" textLength="16.80" lengthAdjust="spacingAndGlyphs">Reach</text>
<text x="96.00" y="212.00" font-size="7.10" font-weight="normal" text-anchor="end" fill="#1a1a1a" textLength="51.90" lengthAdjust="spacingAndGlyphs">Contextual factors</text>
<text x="96.00" y="221.41" font-size="7.10" font-weight="normal" text-anchor="end" fill="#1a1a1a" textLength="27.80" lengthAdjust="spacingAndGlyphs">Feasibility</text>
<text x="96.00" y="230.82" font-size="7.10" font-weight="normal" text-anchor="end" fill="#1a1a1a" textLength="20.00" lengthAdjust="spacingAndGlyphs">Fidelity</text>
<text x="96.00" y="240.23" font-size="7.10" font-weight="normal" text-anchor="end" fill="#1a1a1a" textLength="27.80" lengthAdjust="spacingAndGlyphs">Retention</text>
<text x="96.00" y="249.64" font-size="7.10" font-weight="normal" text-anchor="end" fill="#1a1a1a" textLength="17.10" lengthAdjust="spacingAndGlyphs">Safety</text>
<text x="96.00" y="259.05" font-size="7.10" font-weight="normal" text-anchor="end" fill="#1a1a1a" textLength="26.30" lengthAdjust="spacingAndGlyphs">Adoption</text>
<text x="96.00" y="268.17" font-size="7.10" font-weight="normal" text-anchor="end" fill="#1a1a1a" textLength="14.80" lengthAdjust="spacingAndGlyphs">Costs</text>
<text x="96.00" y="277.61" font-size="7.10" font-weight="normal" text-anchor="end" fill="#1a1a1a" textLength="11.70" lengthAdjust="spacingAndGlyphs">ICER</text>
<text x="96.00" y="287.05" font-size="7.10" font-weight="normal" text-anchor="end" fill="#1a1a1a" textLength="13.00" lengthAdjust="spacingAndGlyphs">ICUR</text>
<text x="96.00" y="296.49" font-size="7.10" font-weight="normal" text-anchor="end" fill="#1a1a1a" textLength="39.80" lengthAdjust="spacingAndGlyphs">Cost per DALY</text>
<text class="c" x="11.00" y="91.25" font-size="7.80" font-weight="bold" text-anchor="middle" fill="#1a1a1a" textLength="40.30" lengthAdjust="spacingAndGlyphs" transform="rotate(-90 11.00 91.25)">Effectiveness</text>
<text class="l" x="20.10" y="91.90" font-size="7.00" font-weight="normal" text-anchor="middle" fill="#1a1a1a" textLength="26.00" lengthAdjust="spacingAndGlyphs" transform="rotate(-90 20.10 91.90)">(n = 164)</text>
<text x="17.20" y="78.70" font-size="3.80" font-weight="normal" text-anchor="start" fill="#1a1a1a" transform="rotate(-90 17.20 78.70)">x</text>
<text class="c" x="11.00" y="203.60" font-size="7.80" font-weight="bold" text-anchor="middle" fill="#1a1a1a" textLength="22.60" lengthAdjust="spacingAndGlyphs" transform="rotate(-90 11.00 203.60)">Process</text>
<text class="l" x="20.10" y="204.10" font-size="7.00" font-weight="normal" text-anchor="middle" fill="#1a1a1a" textLength="20.20" lengthAdjust="spacingAndGlyphs" transform="rotate(-90 20.10 204.10)">(n = 78)</text>
<text x="17.20" y="193.80" font-size="3.80" font-weight="normal" text-anchor="start" fill="#1a1a1a" transform="rotate(-90 17.20 193.80)">x</text>
<text class="c" x="9.90" y="280.35" font-size="7.80" font-weight="bold" text-anchor="middle" fill="#1a1a1a" textLength="28.30" lengthAdjust="spacingAndGlyphs" transform="rotate(-90 9.90 280.35)">Economic</text>
<text class="l" x="20.60" y="282.40" font-size="7.00" font-weight="normal" text-anchor="middle" fill="#1a1a1a" textLength="19.00" lengthAdjust="spacingAndGlyphs" transform="rotate(-90 20.60 282.40)">(n = 9)</text>
<text x="17.70" y="272.70" font-size="3.80" font-weight="normal" text-anchor="start" fill="#1a1a1a" transform="rotate(-90 17.70 272.70)">x</text>
<text class="b" x="97.80" y="306.80" font-size="7.40" font-weight="bold" text-anchor="end" fill="#1a1a1a" textLength="79.50" lengthAdjust="spacingAndGlyphs">AUTHORS’ CONCLUSION</text>
<text class="b" x="97.80" y="320.90" font-size="7.40" font-weight="bold" text-anchor="end" fill="#1a1a1a" textLength="93.20" lengthAdjust="spacingAndGlyphs">RESEARCHERS’ CONCLUSION</text>
<text class="c" x="106.11" y="306.80" font-size="5.90" font-weight="bold" text-anchor="middle" fill="#1a1a1a" textLength="7.58" lengthAdjust="spacingAndGlyphs">NC</text>
<text class="c" x="106.11" y="321.00" font-size="5.90" font-weight="bold" text-anchor="middle" fill="#1a1a1a" textLength="3.62" lengthAdjust="spacingAndGlyphs">S</text>
<text class="c" x="115.52" y="306.80" font-size="5.90" font-weight="bold" text-anchor="middle" fill="#1a1a1a" textLength="3.32" lengthAdjust="spacingAndGlyphs">F</text>
<text class="c" x="115.52" y="321.00" font-size="5.90" font-weight="bold" text-anchor="middle" fill="#1a1a1a" textLength="3.32" lengthAdjust="spacingAndGlyphs">F</text>
<text class="c" x="124.93" y="306.80" font-size="5.90" font-weight="bold" text-anchor="middle" fill="#1a1a1a" textLength="3.32" lengthAdjust="spacingAndGlyphs">F</text>
<text class="c" x="124.93" y="321.00" font-size="5.90" font-weight="bold" text-anchor="middle" fill="#1a1a1a" textLength="3.32" lengthAdjust="spacingAndGlyphs">F</text>
<text class="c" x="134.34" y="306.80" font-size="5.90" font-weight="bold" text-anchor="middle" fill="#1a1a1a" textLength="3.32" lengthAdjust="spacingAndGlyphs">F</text>
<text class="c" x="134.34" y="321.00" font-size="5.90" font-weight="bold" text-anchor="middle" fill="#1a1a1a" textLength="3.32" lengthAdjust="spacingAndGlyphs">F</text>
<text class="c" x="143.75" y="306.80" font-size="5.90" font-weight="bold" text-anchor="middle" fill="#1a1a1a" textLength="3.62" lengthAdjust="spacingAndGlyphs">S</text>
<text class="c" x="143.75" y="321.00" font-size="5.90" font-weight="bold" text-anchor="middle" fill="#1a1a1a" textLength="3.62" lengthAdjust="spacingAndGlyphs">S</text>
<text class="c" x="153.16" y="306.80" font-size="5.90" font-weight="bold" text-anchor="middle" fill="#1a1a1a" textLength="3.62" lengthAdjust="spacingAndGlyphs">S</text>
<text class="c" x="153.16" y="321.00" font-size="5.90" font-weight="bold" text-anchor="middle" fill="#1a1a1a" textLength="3.62" lengthAdjust="spacingAndGlyphs">S</text>
<text class="c" x="162.56" y="306.80" font-size="5.90" font-weight="bold" text-anchor="middle" fill="#1a1a1a" textLength="3.62" lengthAdjust="spacingAndGlyphs">S</text>
<text class="c" x="162.56" y="321.00" font-size="5.90" font-weight="bold" text-anchor="middle" fill="#1a1a1a" textLength="3.62" lengthAdjust="spacingAndGlyphs">S</text>
<text class="c" x="171.98" y="306.80" font-size="5.90" font-weight="bold" text-anchor="middle" fill="#1a1a1a" textLength="3.62" lengthAdjust="spacingAndGlyphs">S</text>
<text class="c" x="171.98" y="321.00" font-size="5.90" font-weight="bold" text-anchor="middle" fill="#1a1a1a" textLength="7.58" lengthAdjust="spacingAndGlyphs">NC</text>
<text class="c" x="181.38" y="306.80" font-size="5.90" font-weight="bold" text-anchor="middle" fill="#1a1a1a" textLength="3.62" lengthAdjust="spacingAndGlyphs">S</text>
<text class="c" x="181.38" y="321.00" font-size="5.90" font-weight="bold" text-anchor="middle" fill="#1a1a1a" textLength="3.62" lengthAdjust="spacingAndGlyphs">S</text>
<text class="c" x="190.80" y="306.80" font-size="5.90" font-weight="bold" text-anchor="middle" fill="#1a1a1a" textLength="3.32" lengthAdjust="spacingAndGlyphs">F</text>
<text class="c" x="190.80" y="321.00" font-size="5.90" font-weight="bold" text-anchor="middle" fill="#1a1a1a" textLength="3.32" lengthAdjust="spacingAndGlyphs">F</text>
<text class="c" x="200.21" y="306.80" font-size="5.90" font-weight="bold" text-anchor="middle" fill="#1a1a1a" textLength="3.62" lengthAdjust="spacingAndGlyphs">S</text>
<text class="c" x="199.21" y="321.00" font-size="5.90" font-weight="bold" text-anchor="middle" fill="#1a1a1a" textLength="3.32" lengthAdjust="spacingAndGlyphs">F</text>
<text class="b" x="200.96" y="318.60" font-size="3.60" font-weight="bold" text-anchor="start" fill="#1a1a1a">*</text>
<text class="c" x="209.62" y="306.80" font-size="5.90" font-weight="bold" text-anchor="middle" fill="#1a1a1a" textLength="3.62" lengthAdjust="spacingAndGlyphs">S</text>
<text class="c" x="209.62" y="321.00" font-size="5.90" font-weight="bold" text-anchor="middle" fill="#1a1a1a" textLength="3.62" lengthAdjust="spacingAndGlyphs">S</text>
<text class="c" x="219.03" y="306.80" font-size="5.90" font-weight="bold" text-anchor="middle" fill="#1a1a1a" textLength="3.62" lengthAdjust="spacingAndGlyphs">S</text>
<text class="c" x="219.03" y="321.00" font-size="5.90" font-weight="bold" text-anchor="middle" fill="#1a1a1a" textLength="3.62" lengthAdjust="spacingAndGlyphs">S</text>
<text class="c" x="228.44" y="306.80" font-size="5.90" font-weight="bold" text-anchor="middle" fill="#1a1a1a" textLength="3.62" lengthAdjust="spacingAndGlyphs">S</text>
<text class="c" x="227.44" y="321.00" font-size="5.90" font-weight="bold" text-anchor="middle" fill="#1a1a1a" textLength="3.32" lengthAdjust="spacingAndGlyphs">F</text>
<text class="b" x="229.19" y="318.60" font-size="3.60" font-weight="bold" text-anchor="start" fill="#1a1a1a">**</text>
<text class="c" x="237.84" y="306.80" font-size="5.90" font-weight="bold" text-anchor="middle" fill="#1a1a1a" textLength="3.32" lengthAdjust="spacingAndGlyphs">F</text>
<text class="c" x="237.84" y="321.00" font-size="5.90" font-weight="bold" text-anchor="middle" fill="#1a1a1a" textLength="3.32" lengthAdjust="spacingAndGlyphs">F</text>
<text class="c" x="247.25" y="306.80" font-size="5.90" font-weight="bold" text-anchor="middle" fill="#1a1a1a" textLength="7.58" lengthAdjust="spacingAndGlyphs">NC</text>
<text class="c" x="247.25" y="321.00" font-size="5.90" font-weight="bold" text-anchor="middle" fill="#1a1a1a" textLength="7.58" lengthAdjust="spacingAndGlyphs">NC</text>
<text class="c" x="256.67" y="306.80" font-size="5.90" font-weight="bold" text-anchor="middle" fill="#1a1a1a" textLength="3.62" lengthAdjust="spacingAndGlyphs">S</text>
<text class="c" x="256.67" y="321.00" font-size="5.90" font-weight="bold" text-anchor="middle" fill="#1a1a1a" textLength="7.58" lengthAdjust="spacingAndGlyphs">NC</text>
<text class="c" x="273.94" y="306.80" font-size="5.90" font-weight="bold" text-anchor="middle" fill="#1a1a1a" textLength="7.58" lengthAdjust="spacingAndGlyphs">NC</text>
<text class="c" x="273.94" y="321.00" font-size="5.90" font-weight="bold" text-anchor="middle" fill="#1a1a1a" textLength="3.62" lengthAdjust="spacingAndGlyphs">S</text>
<text class="c" x="283.42" y="306.80" font-size="5.90" font-weight="bold" text-anchor="middle" fill="#1a1a1a" textLength="3.32" lengthAdjust="spacingAndGlyphs">F</text>
<text class="c" x="283.42" y="321.00" font-size="5.90" font-weight="bold" text-anchor="middle" fill="#1a1a1a" textLength="3.32" lengthAdjust="spacingAndGlyphs">F</text>
<text class="c" x="292.90" y="306.80" font-size="5.90" font-weight="bold" text-anchor="middle" fill="#1a1a1a" textLength="3.32" lengthAdjust="spacingAndGlyphs">F</text>
<text class="c" x="292.90" y="321.00" font-size="5.90" font-weight="bold" text-anchor="middle" fill="#1a1a1a" textLength="3.32" lengthAdjust="spacingAndGlyphs">F</text>
<text class="c" x="302.38" y="306.80" font-size="5.90" font-weight="bold" text-anchor="middle" fill="#1a1a1a" textLength="3.32" lengthAdjust="spacingAndGlyphs">F</text>
<text class="c" x="302.38" y="321.00" font-size="5.90" font-weight="bold" text-anchor="middle" fill="#1a1a1a" textLength="3.32" lengthAdjust="spacingAndGlyphs">F</text>
<text class="c" x="311.86" y="306.80" font-size="5.90" font-weight="bold" text-anchor="middle" fill="#1a1a1a" textLength="3.62" lengthAdjust="spacingAndGlyphs">S</text>
<text class="c" x="311.86" y="321.00" font-size="5.90" font-weight="bold" text-anchor="middle" fill="#1a1a1a" textLength="3.62" lengthAdjust="spacingAndGlyphs">S</text>
<text class="c" x="321.34" y="306.80" font-size="5.90" font-weight="bold" text-anchor="middle" fill="#1a1a1a" textLength="3.62" lengthAdjust="spacingAndGlyphs">S</text>
<text class="c" x="321.34" y="321.00" font-size="5.90" font-weight="bold" text-anchor="middle" fill="#1a1a1a" textLength="3.62" lengthAdjust="spacingAndGlyphs">S</text>
<text class="c" x="330.82" y="306.80" font-size="5.90" font-weight="bold" text-anchor="middle" fill="#1a1a1a" textLength="3.62" lengthAdjust="spacingAndGlyphs">S</text>
<text class="c" x="330.82" y="321.00" font-size="5.90" font-weight="bold" text-anchor="middle" fill="#1a1a1a" textLength="3.62" lengthAdjust="spacingAndGlyphs">S</text>
<text class="c" x="340.30" y="306.80" font-size="5.90" font-weight="bold" text-anchor="middle" fill="#1a1a1a" textLength="3.62" lengthAdjust="spacingAndGlyphs">S</text>
<text class="c" x="340.30" y="321.00" font-size="5.90" font-weight="bold" text-anchor="middle" fill="#1a1a1a" textLength="7.58" lengthAdjust="spacingAndGlyphs">NC</text>
<text class="c" x="349.78" y="306.80" font-size="5.90" font-weight="bold" text-anchor="middle" fill="#1a1a1a" textLength="3.62" lengthAdjust="spacingAndGlyphs">S</text>
<text class="c" x="349.78" y="321.00" font-size="5.90" font-weight="bold" text-anchor="middle" fill="#1a1a1a" textLength="3.62" lengthAdjust="spacingAndGlyphs">S</text>
<text class="c" x="359.26" y="306.80" font-size="5.90" font-weight="bold" text-anchor="middle" fill="#1a1a1a" textLength="3.32" lengthAdjust="spacingAndGlyphs">F</text>
<text class="c" x="359.26" y="321.00" font-size="5.90" font-weight="bold" text-anchor="middle" fill="#1a1a1a" textLength="3.32" lengthAdjust="spacingAndGlyphs">F</text>
<text class="c" x="368.74" y="306.80" font-size="5.90" font-weight="bold" text-anchor="middle" fill="#1a1a1a" textLength="3.62" lengthAdjust="spacingAndGlyphs">S</text>
<text class="c" x="367.74" y="321.00" font-size="5.90" font-weight="bold" text-anchor="middle" fill="#1a1a1a" textLength="3.32" lengthAdjust="spacingAndGlyphs">F</text>
<text class="b" x="369.50" y="318.60" font-size="3.60" font-weight="bold" text-anchor="start" fill="#1a1a1a">*</text>
<text class="c" x="378.22" y="306.80" font-size="5.90" font-weight="bold" text-anchor="middle" fill="#1a1a1a" textLength="3.62" lengthAdjust="spacingAndGlyphs">S</text>
<text class="c" x="378.22" y="321.00" font-size="5.90" font-weight="bold" text-anchor="middle" fill="#1a1a1a" textLength="3.62" lengthAdjust="spacingAndGlyphs">S</text>
<text class="c" x="387.70" y="306.80" font-size="5.90" font-weight="bold" text-anchor="middle" fill="#1a1a1a" textLength="3.62" lengthAdjust="spacingAndGlyphs">S</text>
<text class="c" x="387.70" y="321.00" font-size="5.90" font-weight="bold" text-anchor="middle" fill="#1a1a1a" textLength="3.62" lengthAdjust="spacingAndGlyphs">S</text>
<text class="c" x="397.18" y="306.80" font-size="5.90" font-weight="bold" text-anchor="middle" fill="#1a1a1a" textLength="3.62" lengthAdjust="spacingAndGlyphs">S</text>
<text class="c" x="396.18" y="321.00" font-size="5.90" font-weight="bold" text-anchor="middle" fill="#1a1a1a" textLength="3.32" lengthAdjust="spacingAndGlyphs">F</text>
<text class="b" x="397.94" y="318.60" font-size="3.60" font-weight="bold" text-anchor="start" fill="#1a1a1a">**</text>
<text class="c" x="406.66" y="306.80" font-size="5.90" font-weight="bold" text-anchor="middle" fill="#1a1a1a" textLength="3.32" lengthAdjust="spacingAndGlyphs">F</text>
<text class="c" x="406.66" y="321.00" font-size="5.90" font-weight="bold" text-anchor="middle" fill="#1a1a1a" textLength="3.32" lengthAdjust="spacingAndGlyphs">F</text>
<text class="c" x="416.14" y="306.80" font-size="5.90" font-weight="bold" text-anchor="middle" fill="#1a1a1a" textLength="7.58" lengthAdjust="spacingAndGlyphs">NC</text>
<text class="c" x="416.14" y="321.00" font-size="5.90" font-weight="bold" text-anchor="middle" fill="#1a1a1a" textLength="7.58" lengthAdjust="spacingAndGlyphs">NC</text>
<text class="c" x="425.62" y="306.80" font-size="5.90" font-weight="bold" text-anchor="middle" fill="#1a1a1a" textLength="3.62" lengthAdjust="spacingAndGlyphs">S</text>
<text class="c" x="425.62" y="321.00" font-size="5.90" font-weight="bold" text-anchor="middle" fill="#1a1a1a" textLength="7.58" lengthAdjust="spacingAndGlyphs">NC</text>
<text class="c" x="443.21" y="306.80" font-size="5.90" font-weight="bold" text-anchor="middle" fill="#1a1a1a" textLength="7.58" lengthAdjust="spacingAndGlyphs">NC</text>
<text class="c" x="443.21" y="321.00" font-size="5.90" font-weight="bold" text-anchor="middle" fill="#1a1a1a" textLength="3.62" lengthAdjust="spacingAndGlyphs">S</text>
<text class="c" x="452.63" y="306.80" font-size="5.90" font-weight="bold" text-anchor="middle" fill="#1a1a1a" textLength="3.32" lengthAdjust="spacingAndGlyphs">F</text>
<text class="c" x="452.63" y="321.00" font-size="5.90" font-weight="bold" text-anchor="middle" fill="#1a1a1a" textLength="3.32" lengthAdjust="spacingAndGlyphs">F</text>
<text class="c" x="462.05" y="306.80" font-size="5.90" font-weight="bold" text-anchor="middle" fill="#1a1a1a" textLength="3.32" lengthAdjust="spacingAndGlyphs">F</text>
<text class="c" x="462.05" y="321.00" font-size="5.90" font-weight="bold" text-anchor="middle" fill="#1a1a1a" textLength="3.32" lengthAdjust="spacingAndGlyphs">F</text>
<text class="c" x="471.47" y="306.80" font-size="5.90" font-weight="bold" text-anchor="middle" fill="#1a1a1a" textLength="3.32" lengthAdjust="spacingAndGlyphs">F</text>
<text class="c" x="471.47" y="321.00" font-size="5.90" font-weight="bold" text-anchor="middle" fill="#1a1a1a" textLength="3.32" lengthAdjust="spacingAndGlyphs">F</text>
<text class="c" x="480.89" y="306.80" font-size="5.90" font-weight="bold" text-anchor="middle" fill="#1a1a1a" textLength="3.62" lengthAdjust="spacingAndGlyphs">S</text>
<text class="c" x="480.89" y="321.00" font-size="5.90" font-weight="bold" text-anchor="middle" fill="#1a1a1a" textLength="3.62" lengthAdjust="spacingAndGlyphs">S</text>
<text class="c" x="490.31" y="306.80" font-size="5.90" font-weight="bold" text-anchor="middle" fill="#1a1a1a" textLength="3.62" lengthAdjust="spacingAndGlyphs">S</text>
<text class="c" x="490.31" y="321.00" font-size="5.90" font-weight="bold" text-anchor="middle" fill="#1a1a1a" textLength="3.62" lengthAdjust="spacingAndGlyphs">S</text>
<text class="c" x="499.73" y="306.80" font-size="5.90" font-weight="bold" text-anchor="middle" fill="#1a1a1a" textLength="3.62" lengthAdjust="spacingAndGlyphs">S</text>
<text class="c" x="499.73" y="321.00" font-size="5.90" font-weight="bold" text-anchor="middle" fill="#1a1a1a" textLength="3.62" lengthAdjust="spacingAndGlyphs">S</text>
<text class="c" x="509.15" y="306.80" font-size="5.90" font-weight="bold" text-anchor="middle" fill="#1a1a1a" textLength="3.62" lengthAdjust="spacingAndGlyphs">S</text>
<text class="c" x="509.15" y="321.00" font-size="5.90" font-weight="bold" text-anchor="middle" fill="#1a1a1a" textLength="7.58" lengthAdjust="spacingAndGlyphs">NC</text>
<text class="c" x="518.57" y="306.80" font-size="5.90" font-weight="bold" text-anchor="middle" fill="#1a1a1a" textLength="3.62" lengthAdjust="spacingAndGlyphs">S</text>
<text class="c" x="518.57" y="321.00" font-size="5.90" font-weight="bold" text-anchor="middle" fill="#1a1a1a" textLength="3.62" lengthAdjust="spacingAndGlyphs">S</text>
<text class="c" x="527.99" y="306.80" font-size="5.90" font-weight="bold" text-anchor="middle" fill="#1a1a1a" textLength="3.32" lengthAdjust="spacingAndGlyphs">F</text>
<text class="c" x="527.99" y="321.00" font-size="5.90" font-weight="bold" text-anchor="middle" fill="#1a1a1a" textLength="3.32" lengthAdjust="spacingAndGlyphs">F</text>
<text class="c" x="537.41" y="306.80" font-size="5.90" font-weight="bold" text-anchor="middle" fill="#1a1a1a" textLength="3.62" lengthAdjust="spacingAndGlyphs">S</text>
<text class="c" x="536.41" y="321.00" font-size="5.90" font-weight="bold" text-anchor="middle" fill="#1a1a1a" textLength="3.32" lengthAdjust="spacingAndGlyphs">F</text>
<text class="b" x="538.17" y="318.60" font-size="3.60" font-weight="bold" text-anchor="start" fill="#1a1a1a">*</text>
<text class="c" x="546.83" y="306.80" font-size="5.90" font-weight="bold" text-anchor="middle" fill="#1a1a1a" textLength="3.62" lengthAdjust="spacingAndGlyphs">S</text>
<text class="c" x="546.83" y="321.00" font-size="5.90" font-weight="bold" text-anchor="middle" fill="#1a1a1a" textLength="3.62" lengthAdjust="spacingAndGlyphs">S</text>
<text class="c" x="556.25" y="306.80" font-size="5.90" font-weight="bold" text-anchor="middle" fill="#1a1a1a" textLength="3.62" lengthAdjust="spacingAndGlyphs">S</text>
<text class="c" x="556.25" y="321.00" font-size="5.90" font-weight="bold" text-anchor="middle" fill="#1a1a1a" textLength="3.62" lengthAdjust="spacingAndGlyphs">S</text>
<text class="c" x="565.67" y="306.80" font-size="5.90" font-weight="bold" text-anchor="middle" fill="#1a1a1a" textLength="3.62" lengthAdjust="spacingAndGlyphs">S</text>
<text class="c" x="564.67" y="321.00" font-size="5.90" font-weight="bold" text-anchor="middle" fill="#1a1a1a" textLength="3.32" lengthAdjust="spacingAndGlyphs">F</text>
<text class="b" x="566.43" y="318.60" font-size="3.60" font-weight="bold" text-anchor="start" fill="#1a1a1a">**</text>
<text class="c" x="575.09" y="306.80" font-size="5.90" font-weight="bold" text-anchor="middle" fill="#1a1a1a" textLength="3.32" lengthAdjust="spacingAndGlyphs">F</text>
<text class="c" x="575.09" y="321.00" font-size="5.90" font-weight="bold" text-anchor="middle" fill="#1a1a1a" textLength="3.32" lengthAdjust="spacingAndGlyphs">F</text>
<text class="c" x="584.51" y="306.80" font-size="5.90" font-weight="bold" text-anchor="middle" fill="#1a1a1a" textLength="7.58" lengthAdjust="spacingAndGlyphs">NC</text>
<text class="c" x="584.51" y="321.00" font-size="5.90" font-weight="bold" text-anchor="middle" fill="#1a1a1a" textLength="7.58" lengthAdjust="spacingAndGlyphs">NC</text>
<text class="c" x="593.93" y="306.80" font-size="5.90" font-weight="bold" text-anchor="middle" fill="#1a1a1a" textLength="3.62" lengthAdjust="spacingAndGlyphs">S</text>
<text class="c" x="593.93" y="321.00" font-size="5.90" font-weight="bold" text-anchor="middle" fill="#1a1a1a" textLength="7.58" lengthAdjust="spacingAndGlyphs">NC</text>
<text class="c" x="603.35" y="306.80" font-size="5.90" font-weight="bold" text-anchor="middle" fill="#1a1a1a" textLength="3.32" lengthAdjust="spacingAndGlyphs">F</text>
<text class="c" x="603.35" y="321.00" font-size="5.90" font-weight="bold" text-anchor="middle" fill="#1a1a1a" textLength="3.32" lengthAdjust="spacingAndGlyphs">F</text>
<text class="c" x="612.77" y="306.80" font-size="5.90" font-weight="bold" text-anchor="middle" fill="#1a1a1a" textLength="3.62" lengthAdjust="spacingAndGlyphs">S</text>
<text class="c" x="612.77" y="321.00" font-size="5.90" font-weight="bold" text-anchor="middle" fill="#1a1a1a" textLength="7.58" lengthAdjust="spacingAndGlyphs">NC</text>
<text class="c" x="622.19" y="306.80" font-size="5.90" font-weight="bold" text-anchor="middle" fill="#1a1a1a" textLength="3.62" lengthAdjust="spacingAndGlyphs">S</text>
<text class="c" x="622.19" y="321.00" font-size="5.90" font-weight="bold" text-anchor="middle" fill="#1a1a1a" textLength="7.58" lengthAdjust="spacingAndGlyphs">NC</text>
<text class="c" x="631.61" y="306.80" font-size="5.90" font-weight="bold" text-anchor="middle" fill="#1a1a1a" textLength="3.32" lengthAdjust="spacingAndGlyphs">F</text>
<text class="c" x="631.61" y="321.00" font-size="5.90" font-weight="bold" text-anchor="middle" fill="#1a1a1a" textLength="3.32" lengthAdjust="spacingAndGlyphs">F</text>
<text class="c" x="641.03" y="306.80" font-size="5.90" font-weight="bold" text-anchor="middle" fill="#1a1a1a" textLength="3.62" lengthAdjust="spacingAndGlyphs">S</text>
<text class="c" x="641.03" y="321.00" font-size="5.90" font-weight="bold" text-anchor="middle" fill="#1a1a1a" textLength="7.58" lengthAdjust="spacingAndGlyphs">NC</text>
<text class="c" x="650.45" y="306.80" font-size="5.90" font-weight="bold" text-anchor="middle" fill="#1a1a1a" textLength="3.62" lengthAdjust="spacingAndGlyphs">S</text>
<text class="c" x="650.45" y="321.00" font-size="5.90" font-weight="bold" text-anchor="middle" fill="#1a1a1a" textLength="7.58" lengthAdjust="spacingAndGlyphs">NC</text>
<text class="c" x="659.87" y="306.80" font-size="5.90" font-weight="bold" text-anchor="middle" fill="#1a1a1a" textLength="3.62" lengthAdjust="spacingAndGlyphs">S</text>
<text class="c" x="659.87" y="321.00" font-size="5.90" font-weight="bold" text-anchor="middle" fill="#1a1a1a" textLength="7.58" lengthAdjust="spacingAndGlyphs">NC</text>
<text class="c" x="669.29" y="306.80" font-size="5.90" font-weight="bold" text-anchor="middle" fill="#1a1a1a" textLength="3.62" lengthAdjust="spacingAndGlyphs">S</text>
<text class="c" x="669.29" y="321.00" font-size="5.90" font-weight="bold" text-anchor="middle" fill="#1a1a1a" textLength="7.58" lengthAdjust="spacingAndGlyphs">NC</text>
<text class="c" x="678.71" y="306.80" font-size="5.90" font-weight="bold" text-anchor="middle" fill="#1a1a1a" textLength="3.62" lengthAdjust="spacingAndGlyphs">S</text>
<text class="c" x="678.71" y="321.00" font-size="5.90" font-weight="bold" text-anchor="middle" fill="#1a1a1a" textLength="7.58" lengthAdjust="spacingAndGlyphs">NC</text>
<text x="108.11" y="327.00" font-size="6.30" font-weight="normal" text-anchor="end" fill="#1a1a1a" textLength="33.50" lengthAdjust="spacingAndGlyphs" transform="rotate(-90 108.11 327.00)">ARMADILLO</text>
<text x="117.52" y="327.00" font-size="6.30" font-weight="normal" text-anchor="end" fill="#1a1a1a" textLength="64.30" lengthAdjust="spacingAndGlyphs" transform="rotate(-90 117.52 327.00)">Alcohol reduction, USA</text>
<text x="126.93" y="327.00" font-size="6.30" font-weight="normal" text-anchor="end" fill="#1a1a1a" textLength="38.90" lengthAdjust="spacingAndGlyphs" transform="rotate(-90 126.93 327.00)">Alerta Alcohol</text>
<text x="136.34" y="327.00" font-size="6.30" font-weight="normal" text-anchor="end" fill="#1a1a1a" textLength="21.70" lengthAdjust="spacingAndGlyphs" transform="rotate(-90 136.34 327.00)">CAN-DO</text>
<text x="145.75" y="327.00" font-size="6.30" font-weight="normal" text-anchor="end" fill="#1a1a1a" textLength="25.40" lengthAdjust="spacingAndGlyphs" transform="rotate(-90 145.75 327.00)">PlayTest!</text>
<text x="155.16" y="327.00" font-size="6.30" font-weight="normal" text-anchor="end" fill="#1a1a1a" textLength="57.90" lengthAdjust="spacingAndGlyphs" transform="rotate(-90 155.16 327.00)">Warna-Warni Waktu</text>
<text x="164.56" y="327.00" font-size="6.30" font-weight="normal" text-anchor="end" fill="#1a1a1a" textLength="24.50" lengthAdjust="spacingAndGlyphs" transform="rotate(-90 164.56 327.00)">MyPEEPS</text>
<text x="173.98" y="327.00" font-size="6.30" font-weight="normal" text-anchor="end" fill="#1a1a1a" textLength="43.10" lengthAdjust="spacingAndGlyphs" transform="rotate(-90 173.98 327.00)">Global Consent</text>
<text x="183.38" y="327.00" font-size="6.30" font-weight="normal" text-anchor="end" fill="#1a1a1a" textLength="39.80" lengthAdjust="spacingAndGlyphs" transform="rotate(-90 183.38 327.00)">Outsmart HPV</text>
<text x="192.80" y="327.00" font-size="6.30" font-weight="normal" text-anchor="end" fill="#1a1a1a" textLength="20.80" lengthAdjust="spacingAndGlyphs" transform="rotate(-90 192.80 327.00)">Aim2Be</text>
<text x="202.21" y="327.00" font-size="6.30" font-weight="normal" text-anchor="end" fill="#1a1a1a" textLength="30.80" lengthAdjust="spacingAndGlyphs" transform="rotate(-90 202.21 327.00)">Pop4Teens</text>
<text x="211.62" y="327.00" font-size="6.30" font-weight="normal" text-anchor="end" fill="#1a1a1a" textLength="16.30" lengthAdjust="spacingAndGlyphs" transform="rotate(-90 211.62 327.00)">Topity</text>
<text x="221.03" y="327.00" font-size="6.30" font-weight="normal" text-anchor="end" fill="#1a1a1a" textLength="36.20" lengthAdjust="spacingAndGlyphs" transform="rotate(-90 221.03 327.00)">SHR, Uganda</text>
<text x="230.44" y="327.00" font-size="6.30" font-weight="normal" text-anchor="end" fill="#1a1a1a" textLength="20.80" lengthAdjust="spacingAndGlyphs" transform="rotate(-90 230.44 327.00)">m.spot</text>
<text x="239.84" y="327.00" font-size="6.30" font-weight="normal" text-anchor="end" fill="#1a1a1a" textLength="64.20" lengthAdjust="spacingAndGlyphs" transform="rotate(-90 239.84 327.00)">Contraception Choices</text>
<text x="249.25" y="327.00" font-size="6.30" font-weight="normal" text-anchor="end" fill="#1a1a1a" textLength="28.10" lengthAdjust="spacingAndGlyphs" transform="rotate(-90 249.25 327.00)">Girl2Girl</text>
<text x="258.67" y="327.00" font-size="6.30" font-weight="normal" text-anchor="end" fill="#1a1a1a" textLength="39.80" lengthAdjust="spacingAndGlyphs" transform="rotate(-90 258.67 327.00)">CyberRwanda</text>
<text x="276.34" y="327.00" font-size="6.30" font-weight="normal" text-anchor="end" fill="#1a1a1a" textLength="33.50" lengthAdjust="spacingAndGlyphs" transform="rotate(-90 276.34 327.00)">ARMADILLO</text>
<text x="285.82" y="327.00" font-size="6.30" font-weight="normal" text-anchor="end" fill="#1a1a1a" textLength="64.30" lengthAdjust="spacingAndGlyphs" transform="rotate(-90 285.82 327.00)">Alcohol reduction, USA</text>
<text x="295.30" y="327.00" font-size="6.30" font-weight="normal" text-anchor="end" fill="#1a1a1a" textLength="38.90" lengthAdjust="spacingAndGlyphs" transform="rotate(-90 295.30 327.00)">Alerta Alcohol</text>
<text x="304.78" y="327.00" font-size="6.30" font-weight="normal" text-anchor="end" fill="#1a1a1a" textLength="21.70" lengthAdjust="spacingAndGlyphs" transform="rotate(-90 304.78 327.00)">CAN-DO</text>
<text x="314.26" y="327.00" font-size="6.30" font-weight="normal" text-anchor="end" fill="#1a1a1a" textLength="25.40" lengthAdjust="spacingAndGlyphs" transform="rotate(-90 314.26 327.00)">PlayTest!</text>
<text x="323.74" y="327.00" font-size="6.30" font-weight="normal" text-anchor="end" fill="#1a1a1a" textLength="57.90" lengthAdjust="spacingAndGlyphs" transform="rotate(-90 323.74 327.00)">Warna-Warni Waktu</text>
<text x="333.22" y="327.00" font-size="6.30" font-weight="normal" text-anchor="end" fill="#1a1a1a" textLength="24.50" lengthAdjust="spacingAndGlyphs" transform="rotate(-90 333.22 327.00)">MyPEEPS</text>
<text x="342.70" y="327.00" font-size="6.30" font-weight="normal" text-anchor="end" fill="#1a1a1a" textLength="43.10" lengthAdjust="spacingAndGlyphs" transform="rotate(-90 342.70 327.00)">Global Consent</text>
<text x="352.18" y="327.00" font-size="6.30" font-weight="normal" text-anchor="end" fill="#1a1a1a" textLength="39.80" lengthAdjust="spacingAndGlyphs" transform="rotate(-90 352.18 327.00)">Outsmart HPV</text>
<text x="361.66" y="327.00" font-size="6.30" font-weight="normal" text-anchor="end" fill="#1a1a1a" textLength="20.80" lengthAdjust="spacingAndGlyphs" transform="rotate(-90 361.66 327.00)">Aim2Be</text>
<text x="371.14" y="327.00" font-size="6.30" font-weight="normal" text-anchor="end" fill="#1a1a1a" textLength="30.80" lengthAdjust="spacingAndGlyphs" transform="rotate(-90 371.14 327.00)">Pop4Teens</text>
<text x="380.62" y="327.00" font-size="6.30" font-weight="normal" text-anchor="end" fill="#1a1a1a" textLength="16.30" lengthAdjust="spacingAndGlyphs" transform="rotate(-90 380.62 327.00)">Topity</text>
<text x="390.10" y="327.00" font-size="6.30" font-weight="normal" text-anchor="end" fill="#1a1a1a" textLength="36.20" lengthAdjust="spacingAndGlyphs" transform="rotate(-90 390.10 327.00)">SHR, Uganda</text>
<text x="399.58" y="327.00" font-size="6.30" font-weight="normal" text-anchor="end" fill="#1a1a1a" textLength="20.80" lengthAdjust="spacingAndGlyphs" transform="rotate(-90 399.58 327.00)">m.spot</text>
<text x="409.06" y="327.00" font-size="6.30" font-weight="normal" text-anchor="end" fill="#1a1a1a" textLength="64.20" lengthAdjust="spacingAndGlyphs" transform="rotate(-90 409.06 327.00)">Contraception Choices</text>
<text x="418.54" y="327.00" font-size="6.30" font-weight="normal" text-anchor="end" fill="#1a1a1a" textLength="28.10" lengthAdjust="spacingAndGlyphs" transform="rotate(-90 418.54 327.00)">Girl2Girl</text>
<text x="428.02" y="327.00" font-size="6.30" font-weight="normal" text-anchor="end" fill="#1a1a1a" textLength="39.80" lengthAdjust="spacingAndGlyphs" transform="rotate(-90 428.02 327.00)">CyberRwanda</text>
<text x="445.81" y="327.00" font-size="6.30" font-weight="normal" text-anchor="end" fill="#1a1a1a" textLength="33.50" lengthAdjust="spacingAndGlyphs" transform="rotate(-90 445.81 327.00)">ARMADILLO</text>
<text x="455.23" y="327.00" font-size="6.30" font-weight="normal" text-anchor="end" fill="#1a1a1a" textLength="64.30" lengthAdjust="spacingAndGlyphs" transform="rotate(-90 455.23 327.00)">Alcohol reduction, USA</text>
<text x="464.65" y="327.00" font-size="6.30" font-weight="normal" text-anchor="end" fill="#1a1a1a" textLength="38.90" lengthAdjust="spacingAndGlyphs" transform="rotate(-90 464.65 327.00)">Alerta Alcohol</text>
<text x="474.07" y="327.00" font-size="6.30" font-weight="normal" text-anchor="end" fill="#1a1a1a" textLength="21.70" lengthAdjust="spacingAndGlyphs" transform="rotate(-90 474.07 327.00)">CAN-DO</text>
<text x="483.49" y="327.00" font-size="6.30" font-weight="normal" text-anchor="end" fill="#1a1a1a" textLength="25.40" lengthAdjust="spacingAndGlyphs" transform="rotate(-90 483.49 327.00)">PlayTest!</text>
<text x="492.91" y="327.00" font-size="6.30" font-weight="normal" text-anchor="end" fill="#1a1a1a" textLength="57.90" lengthAdjust="spacingAndGlyphs" transform="rotate(-90 492.91 327.00)">Warna-Warni Waktu</text>
<text x="502.33" y="327.00" font-size="6.30" font-weight="normal" text-anchor="end" fill="#1a1a1a" textLength="24.50" lengthAdjust="spacingAndGlyphs" transform="rotate(-90 502.33 327.00)">MyPEEPS</text>
<text x="511.75" y="327.00" font-size="6.30" font-weight="normal" text-anchor="end" fill="#1a1a1a" textLength="43.10" lengthAdjust="spacingAndGlyphs" transform="rotate(-90 511.75 327.00)">Global Consent</text>
<text x="521.17" y="327.00" font-size="6.30" font-weight="normal" text-anchor="end" fill="#1a1a1a" textLength="39.80" lengthAdjust="spacingAndGlyphs" transform="rotate(-90 521.17 327.00)">Outsmart HPV</text>
<text x="530.59" y="327.00" font-size="6.30" font-weight="normal" text-anchor="end" fill="#1a1a1a" textLength="20.80" lengthAdjust="spacingAndGlyphs" transform="rotate(-90 530.59 327.00)">Aim2Be</text>
<text x="540.01" y="327.00" font-size="6.30" font-weight="normal" text-anchor="end" fill="#1a1a1a" textLength="30.80" lengthAdjust="spacingAndGlyphs" transform="rotate(-90 540.01 327.00)">Pop4Teens</text>
<text x="549.43" y="327.00" font-size="6.30" font-weight="normal" text-anchor="end" fill="#1a1a1a" textLength="16.30" lengthAdjust="spacingAndGlyphs" transform="rotate(-90 549.43 327.00)">Topity</text>
<text x="558.85" y="327.00" font-size="6.30" font-weight="normal" text-anchor="end" fill="#1a1a1a" textLength="36.20" lengthAdjust="spacingAndGlyphs" transform="rotate(-90 558.85 327.00)">SHR, Uganda</text>
<text x="568.27" y="327.00" font-size="6.30" font-weight="normal" text-anchor="end" fill="#1a1a1a" textLength="20.80" lengthAdjust="spacingAndGlyphs" transform="rotate(-90 568.27 327.00)">m.spot</text>
<text x="577.69" y="327.00" font-size="6.30" font-weight="normal" text-anchor="end" fill="#1a1a1a" textLength="64.20" lengthAdjust="spacingAndGlyphs" transform="rotate(-90 577.69 327.00)">Contraception Choices</text>
<text x="587.11" y="327.00" font-size="6.30" font-weight="normal" text-anchor="end" fill="#1a1a1a" textLength="28.10" lengthAdjust="spacingAndGlyphs" transform="rotate(-90 587.11 327.00)">Girl2Girl</text>
<text x="596.53" y="327.00" font-size="6.30" font-weight="normal" text-anchor="end" fill="#1a1a1a" textLength="39.80" lengthAdjust="spacingAndGlyphs" transform="rotate(-90 596.53 327.00)">CyberRwanda</text>
<text x="605.95" y="327.00" font-size="6.30" font-weight="normal" text-anchor="end" fill="#1a1a1a" textLength="29.00" lengthAdjust="spacingAndGlyphs" transform="rotate(-90 605.95 327.00)">IntelliCare</text>
<text x="615.37" y="327.00" font-size="6.30" font-weight="normal" text-anchor="end" fill="#1a1a1a" textLength="32.90" lengthAdjust="spacingAndGlyphs" transform="rotate(-90 615.37 327.00)">REAL Media</text>
<text x="624.79" y="327.00" font-size="6.30" font-weight="normal" text-anchor="end" fill="#1a1a1a" textLength="13.60" lengthAdjust="spacingAndGlyphs" transform="rotate(-90 624.79 327.00)">PACT</text>
<text x="634.21" y="327.00" font-size="6.30" font-weight="normal" text-anchor="end" fill="#1a1a1a" textLength="14.90" lengthAdjust="spacingAndGlyphs" transform="rotate(-90 634.21 327.00)">Fume</text>
<text x="643.63" y="327.00" font-size="6.30" font-weight="normal" text-anchor="end" fill="#1a1a1a" textLength="46.10" lengthAdjust="spacingAndGlyphs" transform="rotate(-90 643.63 327.00)">HEART for Teens</text>
<text x="653.05" y="327.00" font-size="6.30" font-weight="normal" text-anchor="end" fill="#1a1a1a" textLength="48.80" lengthAdjust="spacingAndGlyphs" transform="rotate(-90 653.05 327.00)">eCHECKUP TO GO</text>
<text x="662.47" y="327.00" font-size="6.30" font-weight="normal" text-anchor="end" fill="#1a1a1a" textLength="15.40" lengthAdjust="spacingAndGlyphs" transform="rotate(-90 662.47 327.00)">HOPE</text>
<text x="671.89" y="327.00" font-size="6.30" font-weight="normal" text-anchor="end" fill="#1a1a1a" textLength="19.00" lengthAdjust="spacingAndGlyphs" transform="rotate(-90 671.89 327.00)">SMART</text>
<text x="681.31" y="327.00" font-size="6.30" font-weight="normal" text-anchor="end" fill="#1a1a1a" textLength="37.60" lengthAdjust="spacingAndGlyphs" transform="rotate(-90 681.31 327.00)">Media Aware</text>
<text class="b" x="345.30" y="406.40" font-size="8.00" font-weight="bold" text-anchor="start" fill="#1a1a1a" textLength="62.00" lengthAdjust="spacingAndGlyphs">INTERVENTIONS</text>
<text class="l" x="410.60" y="406.40" font-size="8.00" font-weight="normal" text-anchor="start" fill="#1a1a1a" textLength="26.60" lengthAdjust="spacingAndGlyphs">(n = 26)</text></g>
</svg></body></html>
